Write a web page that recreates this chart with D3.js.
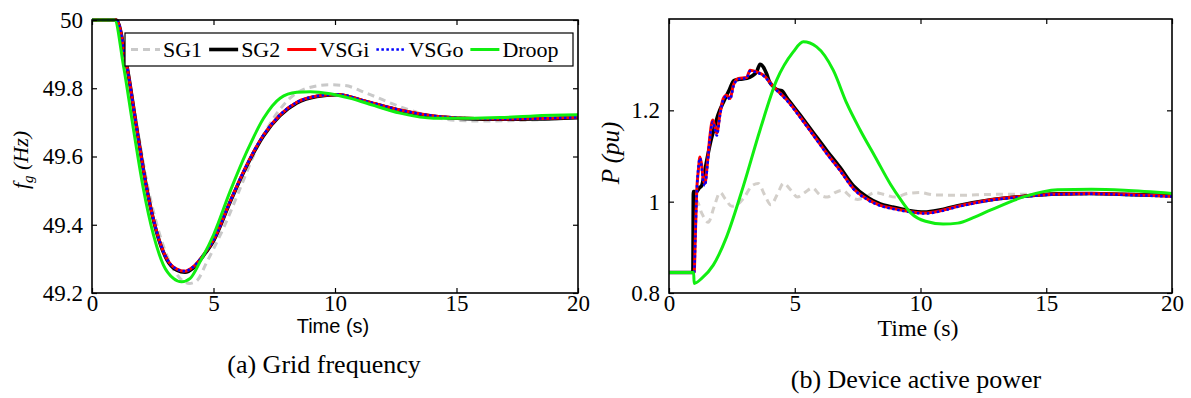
<!DOCTYPE html>
<html><head><meta charset="utf-8">
<script src="https://cdn.jsdelivr.net/npm/d3@7"></script>
<style>
html,body{margin:0;padding:0;background:#fff;}
svg{display:block;}
</style></head>
<body>
<svg id="chart" width="1191" height="398"></svg>
<script>
// ---------- DATA ----------
const seriesNames = ["SG1", "SG2", "VSGi", "VSGo", "Droop"];
const timeTicks = [0, 5, 10, 15, 20];
const freqTicks = [49.2, 49.4, 49.6, 49.8, 50];
const freqTickLabels = ["49.2", "49.4", "49.6", "49.8", "50"];
const powerTicks = [0.8, 1.0, 1.2];
const powerTickLabels = ["0.8", "1", "1.2"];

// (a) Grid frequency (Hz)
const fSG1_t = [0, 1.02, 1.4, 1.85, 2.3, 2.75, 3.2, 3.6, 4.0, 4.3, 4.72, 5.41, 6.1, 6.78, 7.47, 8.15, 8.84, 9.8, 10.4, 11.31, 12.68, 14.06, 15.0, 16.1, 18.17, 20];
const fSG1_v = [50, 50, 49.875, 49.69, 49.51, 49.38, 49.29, 49.245, 49.228, 49.235, 49.29, 49.39, 49.507, 49.624, 49.712, 49.771, 49.80, 49.81, 49.808, 49.785, 49.746, 49.716, 49.706, 49.704, 49.707, 49.715];
const fSG2_t = [0, 1.0, 1.43, 1.84, 2.25, 2.66, 3.08, 3.49, 3.83, 4.17, 4.58, 5.0, 5.68, 6.37, 7.06, 7.74, 8.43, 9.25, 10.08, 11.31, 12.68, 14.06, 15.43, 16.8, 18.17, 20];
const fSG2_v = [50, 50, 49.868, 49.683, 49.507, 49.378, 49.298, 49.267, 49.261, 49.274, 49.309, 49.353, 49.466, 49.573, 49.661, 49.720, 49.757, 49.776, 49.781, 49.760, 49.735, 49.718, 49.711, 49.709, 49.710, 49.714];
const fVSGi_t = [0, 1.0, 1.43, 1.84, 2.25, 2.66, 3.08, 3.49, 3.83, 4.17, 4.58, 5.0, 5.68, 6.37, 7.06, 7.74, 8.43, 9.25, 10.08, 11.31, 12.68, 14.06, 15.43, 16.8, 18.17, 20];
const fVSGi_v = [50, 50, 49.868, 49.683, 49.507, 49.38, 49.30, 49.27, 49.264, 49.277, 49.311, 49.355, 49.468, 49.575, 49.663, 49.722, 49.759, 49.777, 49.782, 49.761, 49.736, 49.719, 49.712, 49.71, 49.711, 49.715];
const fVSGo_t = [0, 1.0, 1.43, 1.84, 2.25, 2.66, 3.08, 3.49, 3.83, 4.17, 4.58, 5.0, 5.68, 6.37, 7.06, 7.74, 8.43, 9.25, 10.08, 11.31, 12.68, 14.06, 15.43, 16.8, 18.17, 20];
const fVSGo_v = [50, 50, 49.868, 49.683, 49.507, 49.38, 49.30, 49.27, 49.264, 49.277, 49.311, 49.355, 49.468, 49.575, 49.663, 49.722, 49.759, 49.777, 49.782, 49.761, 49.736, 49.719, 49.712, 49.71, 49.711, 49.715];
const fDroop_t = [0, 0.93, 1.29, 1.70, 2.11, 2.53, 2.94, 3.35, 3.69, 4.04, 4.45, 5.0, 5.68, 6.37, 7.06, 7.74, 8.43, 8.98, 9.8, 10.6, 11.31, 12.68, 14.06, 15.43, 16.8, 18.17, 20];
const fDroop_v = [50, 50, 49.868, 49.683, 49.507, 49.37, 49.282, 49.243, 49.233, 49.243, 49.292, 49.37, 49.497, 49.614, 49.712, 49.771, 49.788, 49.79, 49.784, 49.771, 49.756, 49.727, 49.712, 49.712, 49.714, 49.719, 49.722];

// (b) Device active power (pu)
const pSG1_t = [0, 0.99, 1.0, 1.1, 1.3, 1.56, 1.8, 2.03, 2.25, 2.5, 2.75, 3.0, 3.3, 3.55, 3.8, 4.05, 4.3, 4.55, 4.85, 5.1, 5.4, 5.7, 6.0, 6.3, 6.6, 6.9, 7.2, 7.5, 7.8, 8.2, 8.6, 9.0, 9.5, 10.0, 10.5, 11.5, 13, 15, 17, 20];
const pSG1_v = [0.845, 0.845, 0.99, 1.002, 0.975, 0.955, 0.99, 1.02, 1.005, 0.99, 0.995, 1.01, 1.035, 1.04, 1.015, 0.993, 1.015, 1.04, 1.025, 1.01, 1.02, 1.03, 1.015, 1.01, 1.02, 1.025, 1.012, 1.005, 1.01, 1.02, 1.015, 1.01, 1.018, 1.02, 1.015, 1.014, 1.016, 1.016, 1.017, 1.016];
const pSG2_t = [0, 0.95, 0.97, 1.1, 1.2, 1.3, 1.4, 1.5, 1.65, 1.78, 1.95, 2.18, 2.4, 2.58, 2.8, 3.1, 3.3, 3.49, 3.62, 3.75, 3.88, 4.0, 4.15, 4.3, 4.48, 4.68, 5.21, 5.74, 6.27, 6.8, 7.33, 7.9, 8.4, 8.83, 9.5, 10.15, 10.8, 11.48, 12.8, 14.13, 15.45, 16.8, 18.1, 20];
const pSG2_v = [0.845, 0.845, 1.022, 1.022, 1.03, 1.035, 1.06, 1.09, 1.13, 1.157, 1.19, 1.22, 1.245, 1.265, 1.268, 1.27, 1.275, 1.285, 1.301, 1.295, 1.28, 1.262, 1.252, 1.245, 1.243, 1.228, 1.19, 1.151, 1.112, 1.075, 1.035, 1.009, 0.995, 0.989, 0.981, 0.977, 0.982, 0.991, 1.004, 1.012, 1.017, 1.018, 1.016, 1.013];
const pVSGi_t = [0, 1.0, 1.05, 1.1, 1.17, 1.23, 1.3, 1.36, 1.43, 1.52, 1.62, 1.74, 1.82, 1.9, 2.03, 2.16, 2.29, 2.43, 2.56, 2.76, 3.09, 3.22, 3.49, 3.75, 4.15, 4.68, 5.21, 5.74, 6.27, 6.8, 7.33, 7.9, 8.4, 8.83, 9.5, 10.15, 10.8, 11.48, 12.1, 12.8, 14.13, 15.45, 16.8, 18.1, 20];
const pVSGi_v = [0.845, 0.845, 0.93, 1.02, 1.07, 1.098, 1.08, 1.05, 1.04, 1.08, 1.14, 1.179, 1.165, 1.15, 1.193, 1.226, 1.233, 1.226, 1.255, 1.27, 1.272, 1.288, 1.284, 1.277, 1.252, 1.223, 1.186, 1.146, 1.106, 1.069, 1.029, 1.005, 0.992, 0.986, 0.979, 0.975, 0.98, 0.99, 0.997, 1.004, 1.012, 1.017, 1.018, 1.016, 1.012];
const pVSGo_t = [0, 1.0, 1.05, 1.1, 1.17, 1.23, 1.3, 1.36, 1.43, 1.52, 1.62, 1.74, 1.82, 1.9, 2.03, 2.16, 2.29, 2.43, 2.56, 2.76, 3.09, 3.22, 3.49, 3.75, 4.15, 4.68, 5.21, 5.74, 6.27, 6.8, 7.33, 7.9, 8.4, 8.83, 9.5, 10.15, 10.8, 11.48, 12.1, 12.8, 14.13, 15.45, 16.8, 18.1, 20];
const pVSGo_v = [0.845, 0.845, 0.925, 1.015, 1.075, 1.095, 1.075, 1.045, 1.035, 1.075, 1.135, 1.175, 1.16, 1.145, 1.19, 1.224, 1.231, 1.224, 1.252, 1.268, 1.271, 1.286, 1.283, 1.276, 1.251, 1.222, 1.185, 1.145, 1.105, 1.068, 1.028, 1.004, 0.991, 0.985, 0.978, 0.974, 0.979, 0.989, 0.996, 1.003, 1.011, 1.016, 1.017, 1.015, 1.011];
const pDroop_t = [0, 0.98, 1.0, 1.3, 1.76, 2.29, 2.95, 3.62, 4.28, 4.94, 5.34, 5.87, 6.53, 7.07, 7.6, 8.2, 8.83, 9.18, 9.62, 10.2, 10.9, 11.48, 12.1, 12.8, 14.13, 15.45, 16.8, 18.1, 20];
const pDroop_v = [0.845, 0.845, 0.821, 0.832, 0.861, 0.923, 1.033, 1.157, 1.266, 1.328, 1.350, 1.339, 1.288, 1.215, 1.157, 1.098, 1.036, 1.007, 0.975, 0.957, 0.951, 0.953, 0.965, 0.982, 1.011, 1.026, 1.027, 1.025, 1.018];

// ---------- STYLE ----------
const serif = "'Liberation Serif','Times New Roman',serif";
const sans = "'Liberation Sans',Arial,sans-serif";
const styles = {
  SG1:   {color: "#c9c9c9", width: 3, dash: "7,5"},
  SG2:   {color: "#000000", width: 3.6, dash: null},
  VSGi:  {color: "#ff0000", width: 3, dash: null},
  VSGo:  {color: "#0000ff", width: 2.6, dash: "2.5,2.5"},
  Droop: {color: "#11ee11", width: 3, dash: null}
};

const svg = d3.select("#chart");
const zip = (t, v) => t.map((d, i) => [d, v[i]]);

function panel(cfg) {
  const x = d3.scaleLinear().domain([0, 20]).range([cfg.x0, cfg.x1]);
  const y = d3.scaleLinear().domain(cfg.ydom).range([cfg.y1, cfg.y0]);
  const g = svg.append("g");
  const line = d3.line().x(d => x(d[0])).y(d => y(d[1])).curve(d3.curveMonotoneX);

  cfg.series.forEach((s, i) => {
    const st = Object.assign({}, styles[seriesNames[i]], cfg.override && cfg.override[seriesNames[i]] || {});
    g.append("path").datum(s).attr("d", line)
      .attr("fill", "none").attr("stroke", st.color).attr("stroke-width", st.width)
      .attr("stroke-dasharray", st.dash).attr("stroke-linejoin", "round");
  });

  const tl = 5;
  const axB = g.append("g").attr("transform", `translate(0,${cfg.y1})`)
    .call(d3.axisBottom(x).tickValues(timeTicks).tickSizeInner(-tl).tickSizeOuter(0).tickPadding(9).tickFormat(d3.format("d")));
  const axT = g.append("g").attr("transform", `translate(0,${cfg.y0})`)
    .call(d3.axisTop(x).tickValues(timeTicks).tickSizeInner(-tl).tickSizeOuter(0).tickFormat(""));
  const axL = g.append("g").attr("transform", `translate(${cfg.x0},0)`)
    .call(d3.axisLeft(y).tickValues(cfg.yticks).tickSizeInner(-tl).tickSizeOuter(0).tickPadding(9)
      .tickFormat((d, i) => cfg.ylabels[i]));
  const axR = g.append("g").attr("transform", `translate(${cfg.x1},0)`)
    .call(d3.axisRight(y).tickValues(cfg.yticks).tickSizeInner(-tl).tickSizeOuter(0).tickFormat(""));
  [axB, axT, axL, axR].forEach(a => {
    a.attr("font-family", null).attr("font-size", null);
    a.select(".domain").remove();
    a.selectAll(".tick line").attr("stroke", "#000").attr("stroke-width", 1.2);
    a.selectAll("text").style("font-family", serif).style("font-size", "23px").attr("fill", "#000");
  });
  axB.selectAll("text").attr("dy", "0.71em").attr("y", 2);
  g.append("rect").attr("x", cfg.x0).attr("y", cfg.y0)
    .attr("width", cfg.x1 - cfg.x0).attr("height", cfg.y1 - cfg.y0)
    .attr("fill", "none").attr("stroke", "#000").attr("stroke-width", 1.6);
  return {g, x, y};
}

panel({
  x0: 92, x1: 578, y0: 20, y1: 293, ydom: [49.2, 50],
  yticks: freqTicks, ylabels: freqTickLabels,
  series: [zip(fSG1_t, fSG1_v), zip(fSG2_t, fSG2_v), zip(fVSGi_t, fVSGi_v), zip(fVSGo_t, fVSGo_v), zip(fDroop_t, fDroop_v)]
});
panel({
  x0: 669, x1: 1172, y0: 19, y1: 293, ydom: [0.8, 1.4],
  yticks: powerTicks, ylabels: powerTickLabels,
  override: {SG1: {color: "#d3cfca"}},
  series: [zip(pSG1_t, pSG1_v), zip(pSG2_t, pSG2_v), zip(pVSGi_t, pVSGi_v), zip(pVSGo_t, pVSGo_v), zip(pDroop_t, pDroop_v)]
});

// Legend (panel a)
const lg = svg.append("g");
lg.append("rect").attr("x", 125).attr("y", 33).attr("width", 448).attr("height", 33)
  .attr("fill", "#fff").attr("stroke", "#000").attr("stroke-width", 1.2);
let lx = 131;
seriesNames.forEach(name => {
  const st = styles[name];
  lg.append("line").attr("x1", lx).attr("x2", lx + 29).attr("y1", 49.5).attr("y2", 49.5)
    .attr("stroke", st.color).attr("stroke-width", st.width).attr("stroke-dasharray", st.dash);
  const t = lg.append("text").attr("x", lx + 32).attr("y", 57).text(name)
    .style("font-family", serif).style("font-size", "22px").attr("fill", "#000");
  lx += 32 + t.node().getComputedTextLength() + 7;
});

// Axis titles
svg.append("text").attr("x", 333).attr("y", 333).attr("text-anchor", "middle")
  .style("font-family", sans).style("font-size", "20px").text("Time (s)");
svg.append("text").attr("x", 918).attr("y", 336).attr("text-anchor", "middle")
  .style("font-family", serif).style("font-size", "24px").text("Time (s)");

const yl = svg.append("text").attr("transform", "translate(28,160) rotate(-90)")
  .attr("text-anchor", "middle").style("font-family", serif).style("font-size", "22px").style("font-style", "italic");
yl.append("tspan").text("f");
yl.append("tspan").style("font-size", "15px").attr("dy", 5).text("g");
yl.append("tspan").attr("dy", -5).text(" (Hz)");

svg.append("text").attr("transform", "translate(619,153) rotate(-90)")
  .attr("text-anchor", "middle").style("font-family", serif).style("font-size", "25px").style("font-style", "italic")
  .text("P (pu)");

// Captions
svg.append("text").attr("x", 324).attr("y", 373).attr("text-anchor", "middle")
  .style("font-family", serif).style("font-size", "26px").text("(a) Grid frequency");
svg.append("text").attr("x", 916).attr("y", 388).attr("text-anchor", "middle")
  .style("font-family", serif).style("font-size", "26px").text("(b) Device active power");
</script>
</body></html>
